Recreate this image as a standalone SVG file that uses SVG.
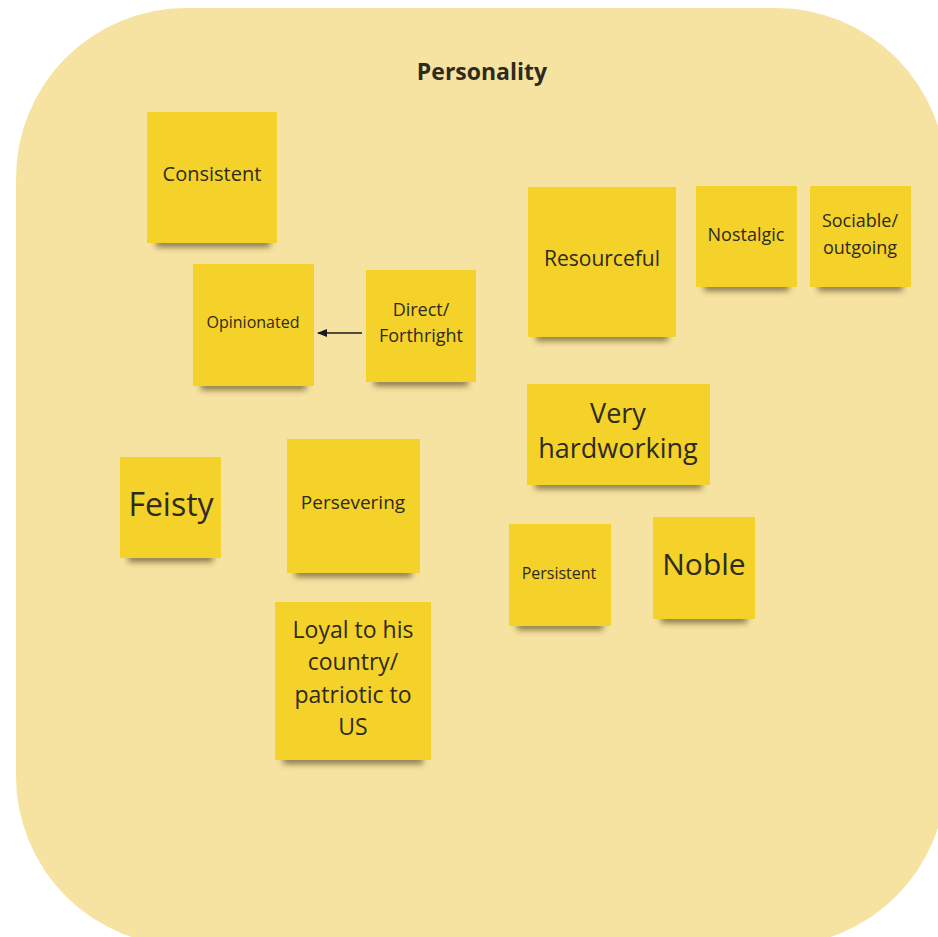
<svg xmlns="http://www.w3.org/2000/svg" width="938" height="937" viewBox="0 0 938 937">
<style>
.note{fill:#f4d22a}
.sh{fill:#3d3208;opacity:0.6;filter:url(#blur)}
.t{font-family:"Open Sans","Liberation Sans",sans-serif;font-weight:500;fill:#2e2a1c;text-anchor:middle}
.title{font-family:"Open Sans","Liberation Sans",sans-serif;font-weight:bold;font-size:23px;fill:#2e2a1c;text-anchor:middle}
</style>
<defs>
<filter id="blur" x="-20%" y="-200%" width="140%" height="500%"><feGaussianBlur stdDeviation="3"/></filter>
<marker id="ah" markerWidth="10" markerHeight="8" refX="9" refY="4" orient="auto" markerUnits="userSpaceOnUse"><path d="M0,0 L10,4 L0,8 Z" fill="#1a1a1a"/></marker>
</defs>
<rect x="0" y="0" width="938" height="937" fill="#ffffff"/>
<rect id="frame" x="16" y="8" width="930" height="938" rx="170" ry="170" fill="#f6e3a1"/>
<text class="title" x="482" y="80">Personality</text>

<g id="consistent"><rect class="sh" x="156" y="238" width="114" height="9"/><rect class="note" x="147" y="112" width="130" height="131"/><text class="t" x="212" y="181" font-size="20">Consistent</text></g>
<g id="opinionated"><rect class="sh" x="201" y="381" width="105" height="9"/><rect class="note" x="193" y="264" width="121" height="122"/><text class="t" x="253" y="328" font-size="16">Opinionated</text></g>
<g id="direct"><rect class="sh" x="374" y="377" width="94" height="9"/><rect class="note" x="366" y="270" width="110" height="112"/><text class="t" x="421" y="316" font-size="18">Direct/</text><text class="t" x="421" y="342" font-size="18">Forthright</text></g>
<g id="resourceful"><rect class="sh" x="536" y="332" width="132" height="9"/><rect class="note" x="528" y="187" width="148" height="150"/><text class="t" x="602" y="266" font-size="21">Resourceful</text></g>
<g id="nostalgic"><rect class="sh" x="704" y="282" width="85" height="9"/><rect class="note" x="696" y="186" width="101" height="101"/><text class="t" x="746" y="241" font-size="18">Nostalgic</text></g>
<g id="sociable"><rect class="sh" x="818" y="282" width="85" height="9"/><rect class="note" x="810" y="186" width="101" height="101"/><text class="t" x="860" y="227" font-size="18">Sociable/</text><text class="t" x="860" y="254" font-size="18">outgoing</text></g>
<g id="hardworking"><rect class="sh" x="535" y="480" width="167" height="9"/><rect class="note" x="527" y="384" width="183" height="101"/><text class="t" x="618" y="423" font-size="27">Very</text><text class="t" x="618" y="458" font-size="27">hardworking</text></g>
<g id="feisty"><rect class="sh" x="128" y="553" width="85" height="9"/><rect class="note" x="120" y="457" width="101" height="101"/><text class="t" x="171" y="516" font-size="32">Feisty</text></g>
<g id="persevering"><rect class="sh" x="295" y="568" width="117" height="9"/><rect class="note" x="287" y="439" width="133" height="134"/><text class="t" x="353" y="509" font-size="19">Persevering</text></g>
<g id="persistent"><rect class="sh" x="517" y="621" width="86" height="9"/><rect class="note" x="509" y="524" width="102" height="102"/><text class="t" x="559" y="579" font-size="16">Persistent</text></g>
<g id="noble"><rect class="sh" x="661" y="614" width="86" height="9"/><rect class="note" x="653" y="517" width="102" height="102"/><text class="t" x="704" y="575" font-size="30">Noble</text></g>
<g id="loyal"><rect class="sh" x="283" y="755" width="140" height="9"/><rect class="note" x="275" y="602" width="156" height="158"/><text class="t" x="353" y="638" font-size="23">Loyal to his</text><text class="t" x="353" y="670" font-size="23">country/</text><text class="t" x="353" y="703" font-size="23">patriotic to</text><text class="t" x="353" y="735" font-size="23">US</text></g>

<g id="connectors"><line x1="362" y1="333" x2="318" y2="333" stroke="#1a1a1a" stroke-width="1.3" marker-end="url(#ah)"/></g>
</svg>
